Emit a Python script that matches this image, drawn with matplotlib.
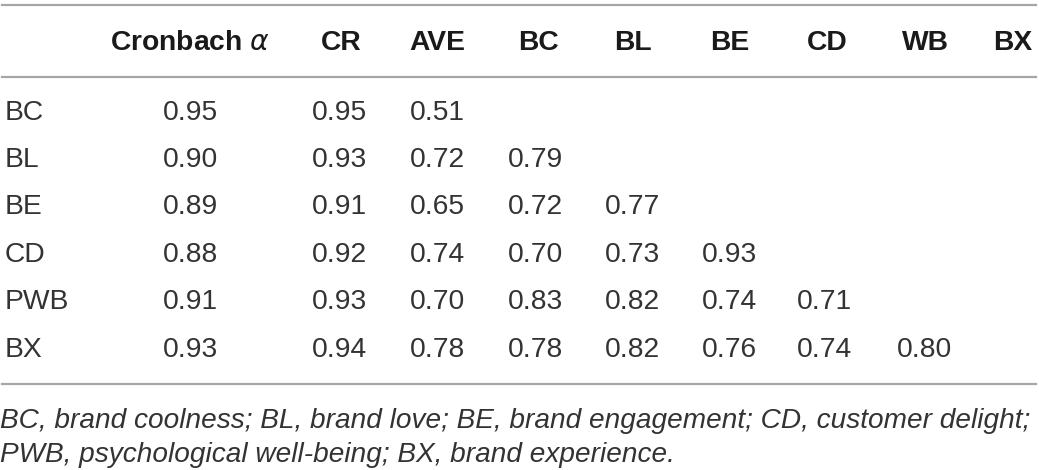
import matplotlib
matplotlib.use("Agg")
import matplotlib.pyplot as plt
from matplotlib.lines import Line2D

# Table data
headers = ["Cronbach $\\alpha$", "CR", "AVE", "BC", "BL", "BE", "CD", "WB", "BX"]
row_labels = ["BC", "BL", "BE", "CD", "PWB", "BX"]
alpha = ["0.95", "0.90", "0.89", "0.88", "0.91", "0.93"]
cr = ["0.95", "0.93", "0.91", "0.92", "0.93", "0.94"]
ave = ["0.51", "0.72", "0.65", "0.74", "0.70", "0.78"]
corr = [
    [],
    ["0.79"],
    ["0.72", "0.77"],
    ["0.70", "0.73", "0.93"],
    ["0.83", "0.82", "0.74", "0.71"],
    ["0.78", "0.82", "0.76", "0.74", "0.80"],
]
footnote = ["BC, brand coolness; BL, brand love; BE, brand engagement; CD, customer delight;",
            "PWB, psychological well-being; BX, brand experience."]

W, H = 1039, 470
fig = plt.figure(figsize=(W / 100, H / 100), dpi=100)
fig.patch.set_facecolor("white")
plt.rcParams["mathtext.fontset"] = "dejavusans"

def fx(x):
    return x / W

def fy(y):
    return 1 - y / H

font = "Liberation Sans"
fs = 20.3
body_col = "#333333"

# Horizontal rules
for yl in [5, 77, 384]:
    fig.add_artist(Line2D([fx(2), fx(1036)], [fy(yl), fy(yl)], color="#a6a6a6", lw=1.6))

# Header (centered)
head_x = [190, 341, 437, 538, 633, 730, 827, 925, 1013]
for h, x in zip(headers, head_x):
    fig.text(fx(x), fy(43), h, ha="center", va="center", fontsize=fs,
             fontweight="bold", family=font, color="#1a1a1a")

# Body rows
row_y = [113, 160, 207, 255, 302, 350]
val_x = [163, 312, 410, 508, 605, 702, 797, 897]
for i, lab in enumerate(row_labels):
    y = fy(row_y[i])
    fig.text(fx(5), y, lab, ha="left", va="center", fontsize=fs, family=font, color=body_col)
    vals = [alpha[i], cr[i], ave[i]] + corr[i]
    for v, x in zip(vals, val_x):
        fig.text(fx(x), y, v, ha="left", va="center", fontsize=fs, family=font, color=body_col)

# Footnote, sized to fit the table width
fig.canvas.draw()
r = fig.canvas.get_renderer()
t1 = fig.text(fx(0), fy(421), footnote[0], ha="left", va="center", fontsize=fs,
              family=font, style="italic", color=body_col)
w = t1.get_window_extent(r).width
fs2 = fs * 1035 / w
t1.set_fontsize(fs2)
fig.text(fx(0), fy(455), footnote[1], ha="left", va="center", fontsize=fs2,
         family=font, style="italic", color=body_col)

fig.savefig("out.png", dpi=100)
